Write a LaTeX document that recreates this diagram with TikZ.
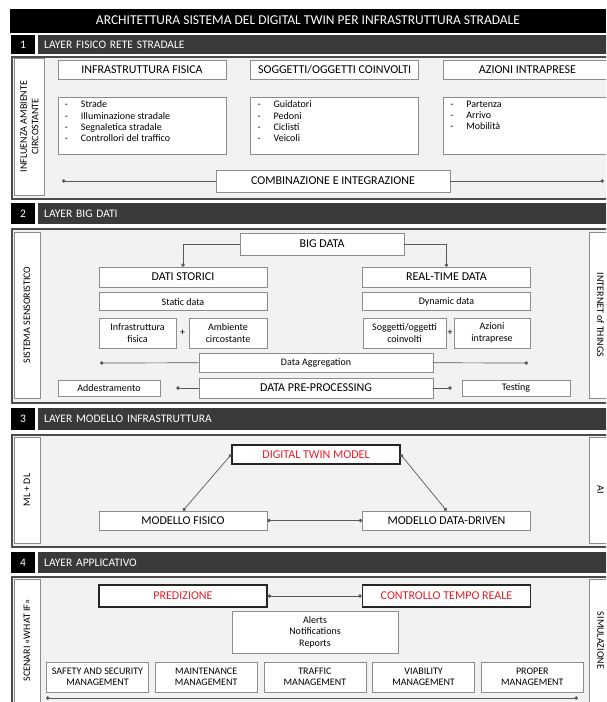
\documentclass[tikz,border=0pt]{standalone}
\usepackage{fontspec}
\setmainfont{Carlito}
\usetikzlibrary{positioning,arrows.meta}
\definecolor{bargray}{HTML}{3A3A3A}
\definecolor{paper}{HTML}{F2F2F2}
\definecolor{edge}{HTML}{8C8C8C}
\definecolor{twinred}{HTML}{E5202B}

\begin{document}
\begin{tikzpicture}[x=1pt,y=-1pt,
  dot/.tip={Circle[length=3.5pt]},
  layer/.style={draw=black!70,line width=1.6pt,fill=paper,anchor=north west,minimum width=689pt},
  box/.style={draw=edge,fill=white,line width=0.7pt,inner sep=1pt,font=\fontsize{12}{13}\selectfont},
  small/.style={box,align=center,font=\fontsize{10}{11.5}\selectfont},
  hot/.style={box,draw=black!85,line width=1.4pt,text=twinred},
  side/.style={small},
  list/.style={anchor=north west,align=left,inner sep=0pt,font=\fontsize{10}{11.3}\selectfont},
  band/.style={fill=bargray,text=white,anchor=west,minimum width=662pt,text width=650pt,inner xsep=6pt,inner ysep=0pt,align=left,font=\fontsize{11.5}{12}\selectfont},
  num/.style={fill=black,text=white,minimum width=24pt,inner sep=0pt,font=\fontsize{11.5}{12}\selectfont},
  wire/.style={draw=black!65,line width=0.7pt},
  link/.style={wire,dot-dot}]
  \useasboundingbox (0,0) rectangle (606,702);
  \clip (0,0) rectangle (606,702);

  \node[fill=black,text=white,minimum width=596pt,minimum height=24pt,font=\fontsize{13.5}{15}\selectfont] (title) at (308,20.5) {ARCHITETTURA SISTEMA DEL DIGITAL TWIN PER INFRASTRUTTURA STRADALE};

  \node[num,minimum height=19pt] (n1) at (23,44.5) {1};
  \node[band,minimum height=19pt] (b1) at (38,44.5) {LAYER FISICO RETE STRADALE};
  \node[layer,minimum height=142pt] (f1) at (11,56) {};
  \node[side,rotate=90,minimum width=137pt,minimum height=30pt] (s1) at (29.5,126.5) {INFLUENZA AMBIENTE\\CIRCOSTANTE};
  \node[box,minimum width=168pt,minimum height=19pt] (t1) at (142,69.5) {INFRASTRUTTURA FISICA};
  \node[box,minimum width=168pt,minimum height=19pt,right=24pt of t1] (t2) {SOGGETTI/OGGETTI COINVOLTI};
  \node[box,minimum width=168pt,minimum height=19pt,right=24pt of t2] (t3) {AZIONI INTRAPRESE};
  \node[box,minimum width=168pt,minimum height=57pt] (l1) at (142,125.5) {};
  \node[box,minimum width=168pt,minimum height=57pt,right=24pt of l1] (l2) {};
  \node[box,minimum width=168pt,minimum height=57pt,right=24pt of l2] (l3) {};
  \node[list] (l1t) at ([xshift=7pt,yshift=-4pt]l1.north west) {-\hspace{13pt}Strade\\-\hspace{13pt}Illuminazione stradale\\-\hspace{13pt}Segnaletica stradale\\-\hspace{13pt}Controllori del traffico};
  \node[list] (l2t) at ([xshift=7pt,yshift=-4pt]l2.north west) {-\hspace{13pt}Guidatori\\-\hspace{13pt}Pedoni\\-\hspace{13pt}Ciclisti\\-\hspace{13pt}Veicoli};
  \node[list] (l3t) at ([xshift=7pt,yshift=-4pt]l3.north west) {-\hspace{13pt}Partenza\\-\hspace{13pt}Arrivo\\-\hspace{13pt}Mobilità};
  \node[box,minimum width=234pt,minimum height=22pt] (comb) at (333,181) {COMBINAZIONE E INTEGRAZIONE};
  \coordinate (c1) at (62,181);
  \coordinate (c2) at (604,181);
  \draw[wire,dot-] (c1) -- (comb);
  \draw[wire,-dot] (comb) -- (c2);

  \node[num,minimum height=21pt] (n2) at (23,213.5) {2};
  \node[band,minimum height=21pt] (b2) at (38,213.5) {LAYER BIG DATI};
  \node[layer,minimum height=174pt] (f2) at (11,228) {};
  \node[side,rotate=90,minimum width=166pt,minimum height=26pt] (s2) at (27,315) {SISTEMA SENSORISTICO};
  \node[side,rotate=-90,minimum width=166pt,minimum height=23pt] (r2) at (600.5,315) {INTERNET of THINGS};
  \node[box,minimum width=164pt,minimum height=22pt] (big) at (322,244) {BIG DATA};
  \node[box,minimum width=168pt,minimum height=20pt] (ds) at (183,277) {DATI STORICI};
  \node[box,minimum width=168pt,minimum height=20pt] (rt) at (446.5,277) {REAL-TIME DATA};
  \node[small,minimum width=168pt,minimum height=18pt,below=5pt of ds] (sd) {Static data};
  \node[small,minimum width=168pt,minimum height=18pt,below=5pt of rt] (dd) {Dynamic data};
  \node[small,minimum width=77pt,minimum height=30pt] (fis) at (137.5,333) {Infrastruttura\\fisica};
  \node[font=\fontsize{10}{11}\selectfont] (p1) at (182.5,333) {+};
  \node[small,minimum width=78pt,minimum height=30pt] (amb) at (228,333) {Ambiente\\circostante};
  \node[small,minimum width=83pt,minimum height=30pt] (sog) at (404.5,333) {Soggetti/oggetti\\coinvolti};
  \node[font=\fontsize{10}{11}\selectfont] (p2) at (450,333) {+};
  \node[small,minimum width=76pt,minimum height=30pt] (azi) at (492,333) {Azioni\\intraprese};
  \node[small,minimum width=234pt,minimum height=19pt] (agg) at (316,362.5) {Data Aggregation};
  \coordinate (a1) at (100,363);
  \coordinate (a2) at (528,363);
  \node[small,minimum width=102pt,minimum height=16pt] (add) at (109,388) {Addestramento};
  \node[box,minimum width=234pt,minimum height=20pt] (pre) at (316,388) {DATA PRE-PROCESSING};
  \node[small,minimum width=108pt,minimum height=16pt] (tes) at (516,388) {Testing};
  \draw[wire,-dot] (big.west) -| (ds.north);
  \draw[wire,-dot] (big.east) -| (rt.north);
  \draw[wire,dot-] (a1) -- (agg);
  \draw[wire,-dot] (agg) -- (a2);
  \draw[wire,-dot,shorten >=16pt] (pre) -- (add);
  \draw[wire,-dot,shorten >=10pt] (pre) -- (tes);

  \node[num,minimum height=22pt] (n3) at (23,419) {3};
  \node[band,minimum height=22pt] (b3) at (38,419) {LAYER MODELLO INFRASTRUTTURA};
  \node[layer,minimum height=112pt] (f3) at (11,434) {};
  \node[side,rotate=90,minimum width=106pt,minimum height=26pt] (s3) at (27,490) {ML + DL};
  \node[side,rotate=-90,minimum width=106pt,minimum height=23pt] (r3) at (600.5,490) {AI};
  \node[hot,minimum width=168pt,minimum height=19pt] (dtm) at (316,454.5) {DIGITAL TWIN MODEL};
  \node[box,minimum width=168pt,minimum height=19pt] (mf) at (183,520.5) {MODELLO FISICO};
  \node[box,minimum width=168pt,minimum height=19pt] (mdd) at (446.5,520.5) {MODELLO DATA-DRIVEN};
  \draw[link] (dtm.west) -- (mf.north);
  \draw[link] (dtm.east) -- (mdd.north);
  \draw[link] (mf) -- (mdd);

  \node[num,minimum height=21pt] (n4) at (23,562.5) {4};
  \node[band,minimum height=21pt] (b4) at (38,562.5) {LAYER APPLICATIVO};
  \node[layer,minimum height=140pt] (f4) at (11,576) {};
  \node[side,rotate=90,minimum width=123pt,minimum height=26pt] (s4) at (27,640.5) {SCENARI «WHAT IF»};
  \node[side,rotate=-90,minimum width=123pt,minimum height=23pt] (r4) at (600.5,640.5) {SIMULAZIONE};
  \node[hot,minimum width=168pt,minimum height=22pt] (pred) at (183,596) {PREDIZIONE};
  \node[hot,minimum width=168pt,minimum height=22pt] (ctrl) at (446.5,596) {CONTROLLO TEMPO REALE};
  \draw[link] (pred) -- (ctrl);
  \node[small,minimum width=166pt,minimum height=42pt] (alr) at (315,632) {Alerts\\Notifications\\Reports};
  \node[small,minimum width=102pt,minimum height=30pt] (m1) at (97.5,677) {SAFETY AND SECURITY\\MANAGEMENT};
  \node[small,minimum width=102pt,minimum height=30pt,right=6pt of m1] (m2) {MAINTENANCE\\MANAGEMENT};
  \node[small,minimum width=102pt,minimum height=30pt,right=6pt of m2] (m3) {TRAFFIC\\MANAGEMENT};
  \node[small,minimum width=102pt,minimum height=30pt,right=6pt of m3] (m4) {VIABILITY\\MANAGEMENT};
  \node[small,minimum width=102pt,minimum height=30pt,right=6pt of m4] (m5) {PROPER\\MANAGEMENT};
  \coordinate (e1) at (46,698);
  \coordinate (e2) at (578,698);
  \draw[link] (e1) -- (e2);
\end{tikzpicture}
\end{document}
